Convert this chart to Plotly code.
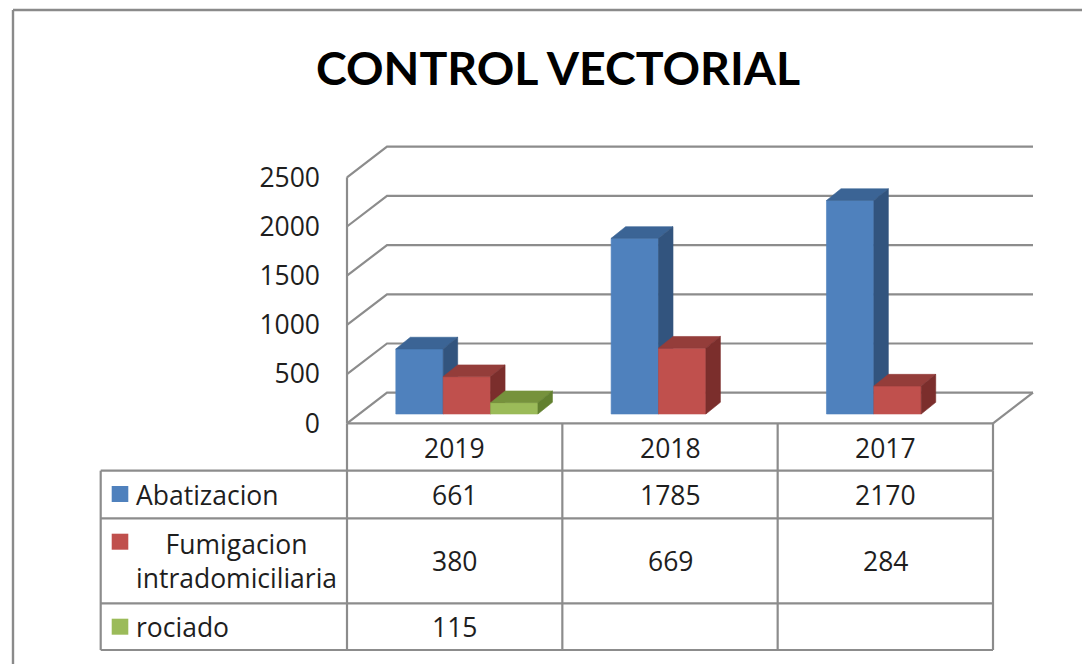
import plotly.graph_objects as go

# ---------------- data ----------------
categories = ["2019", "2018", "2017"]
series_names = ["Abatizacion", "Fumigacion<br>intradomiciliaria", "rociado"]
abatizacion = [661, 1785, 2170]
fumigacion = [380, 669, 284]
rociado = [115, None, None]
y_ticks = [0, 500, 1000, 1500, 2000, 2500]
title = "CONTROL VECTORIAL"

series_values = [abatizacion, fumigacion, rociado]
front_colors = ["#4F81BD", "#C0504D", "#9BBB59"]
top_colors = ["#3B6495", "#943D3A", "#76923C"]
side_colors = ["#32547E", "#7B2E2C", "#62802F"]

# ---------------- geometry (pixel frame of the 1090x664 window) ----------------
W, H = 1090, 664
OFF = 8.0              # page body margin
X0_PX = 347.0          # front-left corner of the floor
Y0_PX = 423.3          # front floor line
SX = 646.0 / 3         # px per category
SY = 0.0984            # px per value unit

def px2x(px):
    return (px - X0_PX) / SX

def py2y(py):
    return (Y0_PX - py) / SY

# depth vectors (in data units)
GDX, GDY = 40.0 / SX, 30.6 / SY          # full wall depth
BDX, BDY = 12.2 / SX, 9.3 / SY           # bars front plane
DDX, DDY = 14.5 / SX, 11.7 / SY          # bar depth
BAR_W = 0.22
GAP = 0.17
GRID = "#8C8C8C"

fig = go.Figure()

def poly(xs, ys, color):
    fig.add_trace(go.Scatter(
        x=xs + [xs[0]], y=ys + [ys[0]], mode="lines", fill="toself",
        fillcolor=color, line=dict(color=color, width=0.6),
        hoverinfo="skip", showlegend=False))

def line(xs, ys, width=2.2):
    fig.add_trace(go.Scatter(
        x=xs, y=ys, mode="lines", line=dict(color=GRID, width=width),
        hoverinfo="skip", showlegend=False))

n = len(categories)
# gridlines on side wall + back wall
for v in y_ticks:
    line([0, GDX, n + GDX], [v, v + GDY, v + GDY])
# front-left wall edge and floor right edge
line([0, 0], [0, y_ticks[-1]])
line([n, n + GDX], [0, GDY])

# bars
for i in range(n):
    for j, vals in enumerate(series_values):
        v = vals[i]
        if v is None:
            continue
        x0 = i + GAP + j * BAR_W + BDX
        x1 = x0 + BAR_W
        yb = BDY
        yt = BDY + v
        poly([x0, x1, x1, x0], [yb, yb, yt, yt], front_colors[j])
        poly([x0, x1, x1 + DDX, x0 + DDX], [yt, yt, yt + DDY, yt + DDY], top_colors[j])
        poly([x1, x1 + DDX, x1 + DDX, x1], [yb, yb + DDY, yt + DDY, yt], side_colors[j])

# ---------------- data table ----------------
def xp(px):
    return (px - OFF) / W

def yp(py):
    return 1 - (py - OFF) / H

shapes = []
def seg(x0, y0, x1, y1, color=GRID, width=2.2):
    shapes.append(dict(type="line", xref="paper", yref="paper",
                       x0=xp(x0), y0=yp(y0), x1=xp(x1), y1=yp(y1),
                       line=dict(color=color, width=width)))

TBL_L = 100.7
col_px = [X0_PX + SX * k for k in range(n + 1)]
row_px = [Y0_PX, 470.7, 518.3, 603.3, 650.0]

# header row (category labels)
seg(col_px[0], row_px[0], col_px[0], row_px[1])
seg(col_px[-1], row_px[0], col_px[-1], row_px[1])
seg(col_px[0], row_px[0], col_px[-1], row_px[0])
for k in range(1, n):
    seg(col_px[k], row_px[0], col_px[k], row_px[-1])
# body rows
for r in row_px[1:]:
    seg(TBL_L, r, col_px[-1], r)
seg(TBL_L, row_px[1], TBL_L, row_px[-1])
seg(col_px[0], row_px[1], col_px[0], row_px[-1])
seg(col_px[-1], row_px[1], col_px[-1], row_px[-1])

# outer chart border
seg(13, 10, 1100, 10, color="#8A8A8A", width=2.4)
seg(13, 10, 13, 680, color="#8A8A8A", width=2.4)

annotations = []
FONT = "Open Sans, Noto Sans, sans-serif"
TXT = "#1E1E1E"
FS = 26.5

def ann(text, x_px, y_px, xanchor="center", size=FS, color=TXT, family=FONT):
    annotations.append(dict(
        text=text, x=xp(x_px), y=yp(y_px), xref="paper", yref="paper",
        xanchor=xanchor, yanchor="middle", showarrow=False, align="center",
        font=dict(family=family, size=size, color=color)))

# header labels
for i, c in enumerate(categories):
    ann(c, (col_px[i] + col_px[i + 1]) / 2, (row_px[0] + row_px[1]) / 2 + 1)

# rows: legend keys, names, values
row_centers = [(row_px[1 + r] + row_px[2 + r]) / 2 for r in range(3)]
key_y = [494.0, 541.7, 626.7]
for r, name in enumerate(series_names):
    ky = key_y[r]
    shapes.append(dict(type="rect", xref="paper", yref="paper",
                       x0=xp(111.7), x1=xp(128.3), y0=yp(ky - 8), y1=yp(ky + 8),
                       fillcolor=front_colors[r], line=dict(width=0)))
    if "<br>" in name:
        ann(name, 236, row_centers[r])
    else:
        ann(name, 134, row_centers[r], xanchor="left")
    for i in range(n):
        v = series_values[r][i]
        if v is not None:
            ann(str(v), (col_px[i] + col_px[i + 1]) / 2, row_centers[r])

# title
ann("<b>" + title + "</b>", 558, 67, size=46.5, color="#000000", family="Lato, Open Sans, sans-serif")

fig.update_layout(
    width=W, height=H,
    margin=dict(l=0, r=0, t=0, b=0),
    paper_bgcolor="white", plot_bgcolor="white",
    xaxis=dict(range=[px2x(OFF), px2x(W + OFF)], visible=False, fixedrange=True),
    yaxis=dict(range=[py2y(H + OFF), py2y(OFF)], anchor="free", position=(X0_PX - OFF) / W,
               tickvals=y_ticks, ticktext=[str(t) for t in y_ticks],
               showgrid=False, zeroline=False, showline=False, ticks="",
               ticklabelstandoff=27,
               tickfont=dict(family=FONT, size=FS, color=TXT), fixedrange=True),
    shapes=shapes,
    annotations=annotations,
    showlegend=False,
)

fig.write_html("out.html")
